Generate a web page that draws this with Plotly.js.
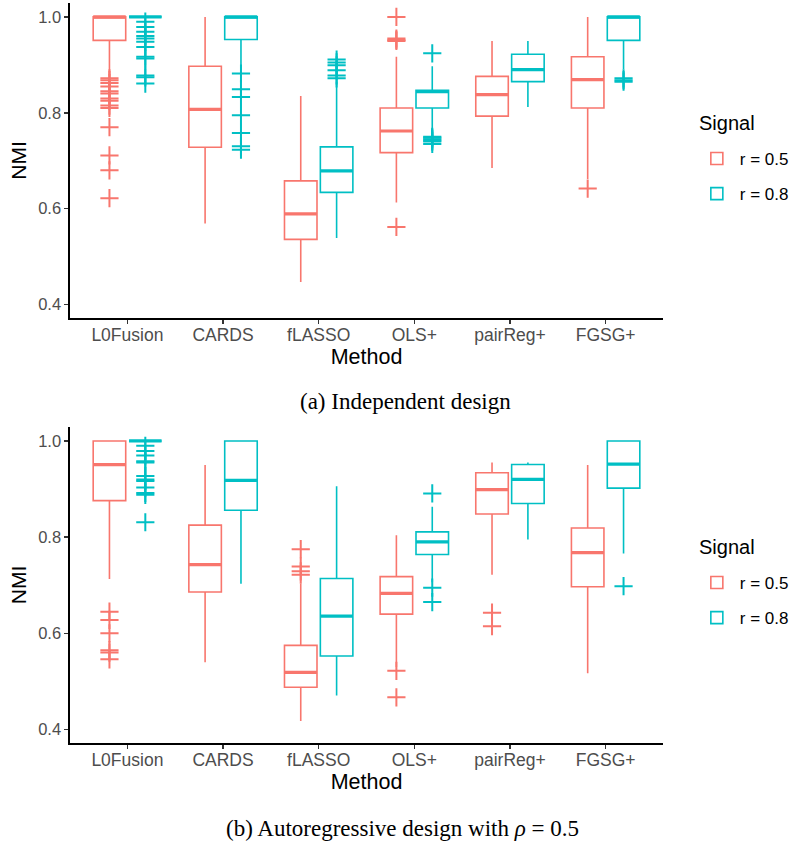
<!DOCTYPE html>
<html>
<head>
<meta charset="utf-8">
<script src="https://cdn.plot.ly/plotly-3.0.1.min.js"></script>
<style>html,body{margin:0;padding:0;background:#fff;}#chart{width:790px;height:845px;}</style>
</head>
<body>
<div id="chart"></div>
<script>
const methods = ['L0Fusion', 'CARDS', 'fLASSO', 'OLS+', 'pairReg+', 'FGSG+'];
const signals = ['r = 0.5', 'r = 0.8'];
const colors = ['#F8766D', '#00BFC4'];

// (a) Independent design, r = 0.5
const a05_q1  = [0.951, 0.728, 0.536, 0.717, 0.793, 0.810];
const a05_med = [1.000, 0.807, 0.589, 0.762, 0.838, 0.869];
const a05_q3  = [1.000, 0.897, 0.658, 0.810, 0.876, 0.917];
const a05_lo  = [0.878, 0.569, 0.447, 0.613, 0.685, 0.662];
const a05_hi  = [1.000, 1.000, 0.835, 0.917, 0.950, 1.000];
const a05_out = [[0.872, 0.868, 0.862, 0.855, 0.845, 0.840, 0.830, 0.825, 0.815, 0.810, 0.770, 0.711, 0.680, 0.622],
                 [], [], [1.000, 0.955, 0.952, 0.950, 0.562], [], [0.642]];
// (a) Independent design, r = 0.8
const a08_q1  = [1.000, 0.953, 0.634, 0.810, 0.865, 0.951];
const a08_med = [1.000, 1.000, 0.679, 0.844, 0.890, 1.000];
const a08_q3  = [1.000, 1.000, 0.729, 0.847, 0.922, 1.000];
const a08_lo  = [1.000, 0.890, 0.539, 0.757, 0.812, 0.891];
const a08_hi  = [1.000, 1.000, 0.865, 0.897, 0.950, 1.000];
const a08_out = [[0.990, 0.979, 0.969, 0.960, 0.955, 0.948, 0.937, 0.917, 0.913, 0.878, 0.874, 0.861],
                 [0.882, 0.849, 0.833, 0.795, 0.758, 0.730, 0.723],
                 [0.911, 0.905, 0.899, 0.889, 0.878, 0.872],
                 [0.924, 0.750, 0.748, 0.745, 0.742, 0.740, 0.735], [], [0.872, 0.868, 0.865]];
// (b) Autoregressive design, r = 0.5
const b05_q1  = [0.876, 0.686, 0.488, 0.640, 0.848, 0.697];
const b05_med = [0.951, 0.743, 0.519, 0.683, 0.899, 0.768];
const b05_q3  = [1.000, 0.825, 0.575, 0.718, 0.934, 0.819];
const b05_lo  = [0.713, 0.540, 0.418, 0.530, 0.722, 0.517];
const b05_hi  = [1.000, 0.950, 0.703, 0.804, 0.955, 0.950];
const b05_out = [[0.645, 0.628, 0.600, 0.565, 0.560, 0.546], [], [0.775, 0.739, 0.729, 0.722],
                 [0.522, 0.467], [0.643, 0.615], []];
// (b) Autoregressive design, r = 0.8
const b08_q1  = [1.000, 0.856, 0.553, 0.764, 0.870, 0.902];
const b08_med = [1.000, 0.918, 0.636, 0.790, 0.920, 0.952];
const b08_q3  = [1.000, 1.000, 0.714, 0.811, 0.951, 1.000];
const b08_lo  = [1.000, 0.703, 0.471, 0.706, 0.795, 0.766];
const b08_hi  = [1.000, 1.000, 0.906, 0.863, 0.955, 1.000];
const b08_out = [[0.990, 0.979, 0.970, 0.958, 0.955, 0.927, 0.920, 0.917, 0.903, 0.892, 0.888, 0.831],
                 [], [], [0.891, 0.695, 0.665], [], [0.698]];

const yTicks = [0.4, 0.6, 0.8, 1.0];
const captions = ['(a) Independent design', '(b) Autoregressive design with <i>ρ</i> = 0.5'];
const legendTitle = 'Signal';

const dodge = 0.1875, boxW = 0.34;
const traces = [];

function addPanel(sets, xa, ya, legendName) {
  sets.forEach((s, k) => {
    const pos = methods.map((m, i) => i + 1 + (k === 0 ? -dodge : dodge));
    traces.push({
      type: 'box', x: pos, q1: s.q1, median: s.med, q3: s.q3,
      lowerfence: s.lo, upperfence: s.hi,
      width: boxW, whiskerwidth: 0, boxpoints: false,
      fillcolor: 'rgba(255,255,255,0)',
      line: {color: colors[k], width: 1.6},
      name: signals[k], legendgroup: legendName + k, legend: legendName,
      xaxis: xa, yaxis: ya, hoverinfo: 'skip'
    });
    // thicker median line, as in ggplot
    const mx = [], my = [];
    pos.forEach((p, i) => { mx.push(p - boxW / 2, p + boxW / 2, null); my.push(s.med[i], s.med[i], null); });
    traces.push({type: 'scatter', mode: 'lines', x: mx, y: my, line: {color: colors[k], width: 3.2},
      showlegend: false, xaxis: xa, yaxis: ya, hoverinfo: 'skip'});
    const ox = [], oy = [];
    s.out.forEach((arr, i) => arr.forEach(v => { ox.push(pos[i]); oy.push(v); }));
    traces.push({type: 'scatter', mode: 'markers', x: ox, y: oy,
      marker: {symbol: 'cross-thin', size: 13, color: colors[k], line: {color: colors[k], width: 2}},
      showlegend: false, xaxis: xa, yaxis: ya, hoverinfo: 'skip'});
  });
}

addPanel([
  {q1: a05_q1, med: a05_med, q3: a05_q3, lo: a05_lo, hi: a05_hi, out: a05_out},
  {q1: a08_q1, med: a08_med, q3: a08_q3, lo: a08_lo, hi: a08_hi, out: a08_out}
], 'x', 'y', 'legend');
addPanel([
  {q1: b05_q1, med: b05_med, q3: b05_q3, lo: b05_lo, hi: b05_hi, out: b05_out},
  {q1: b08_q1, med: b08_med, q3: b08_q3, lo: b08_lo, hi: b08_hi, out: b08_out}
], 'x2', 'y2', 'legend2');

const font = 'Liberation Sans, Arial, sans-serif';
const serif = 'Liberation Serif, Times New Roman, serif';
function xAxis(anchor) {
  return {
    anchor: anchor, range: [0.4, 6.6], tickmode: 'array',
    tickvals: methods.map((m, i) => i + 1), ticktext: methods,
    showgrid: false, zeroline: false, showline: true, linecolor: '#000', linewidth: 1.6,
    ticks: 'outside', ticklen: 4, tickwidth: 1.4, tickcolor: '#333', ticklabelstandoff: -4,
    tickfont: {family: font, size: 17.5, color: '#4D4D4D'},
    title: {text: 'Method', font: {family: font, size: 21.5, color: '#000'}, standoff: 2}
  };
}
function yAxis(anchor, domain) {
  return {
    anchor: anchor, domain: domain, range: [0.372, 1.029], tickmode: 'array',
    tickvals: yTicks, ticktext: yTicks.map(v => v.toFixed(1)),
    showgrid: false, zeroline: false, showline: true, linecolor: '#000', linewidth: 1.6,
    ticks: 'outside', ticklen: 4, tickwidth: 1.4, tickcolor: '#333',
    tickfont: {family: font, size: 16.5, color: '#4D4D4D'},
    title: {text: 'NMI', font: {family: font, size: 21, color: '#000'}, standoff: 6}
  };
}
function legendCfg(y) {
  return {
    font: {family: font, size: 17, color: '#000'},
    x: 1.052, y: y, xanchor: 'left', yanchor: 'top', itemwidth: 36,
    traceorder: 'grouped', tracegroupgap: 10, bgcolor: 'rgba(0,0,0,0)'
  };
}
const py = p => (743 - p) / 740;

const layout = {
  width: 790, height: 845,
  margin: {l: 70, r: 127, t: 3, b: 102, autoexpand: false},
  paper_bgcolor: '#fff', plot_bgcolor: '#fff',
  boxmode: 'overlay', showlegend: true,
  xaxis: xAxis('y'), yaxis: yAxis('x', [0.5743, 1.0]),
  xaxis2: xAxis('y2'), yaxis2: yAxis('x2', [0.0, 0.427]),
  legend: legendCfg(py(141)), legend2: legendCfg(py(565)),
  annotations: [
    {text: captions[0], xref: 'paper', yref: 'paper', x: 0.565, y: py(402), xanchor: 'center', yanchor: 'middle',
     showarrow: false, font: {family: serif, size: 23, color: '#000'}},
    {text: captions[1], xref: 'paper', yref: 'paper', x: 0.56, y: py(828), xanchor: 'center', yanchor: 'middle',
     showarrow: false, font: {family: serif, size: 23, color: '#000'}},
    {text: legendTitle, xref: 'paper', yref: 'paper', x: (697 - 70) / 593, y: py(123), xanchor: 'left', yanchor: 'middle',
     showarrow: false, font: {family: font, size: 20, color: '#000'}},
    {text: legendTitle, xref: 'paper', yref: 'paper', x: (697 - 70) / 593, y: py(547), xanchor: 'left', yanchor: 'middle',
     showarrow: false, font: {family: font, size: 20, color: '#000'}}
  ]
};

Plotly.newPlot('chart', traces, layout, {staticPlot: true, displayModeBar: false});
</script>
</body>
</html>
